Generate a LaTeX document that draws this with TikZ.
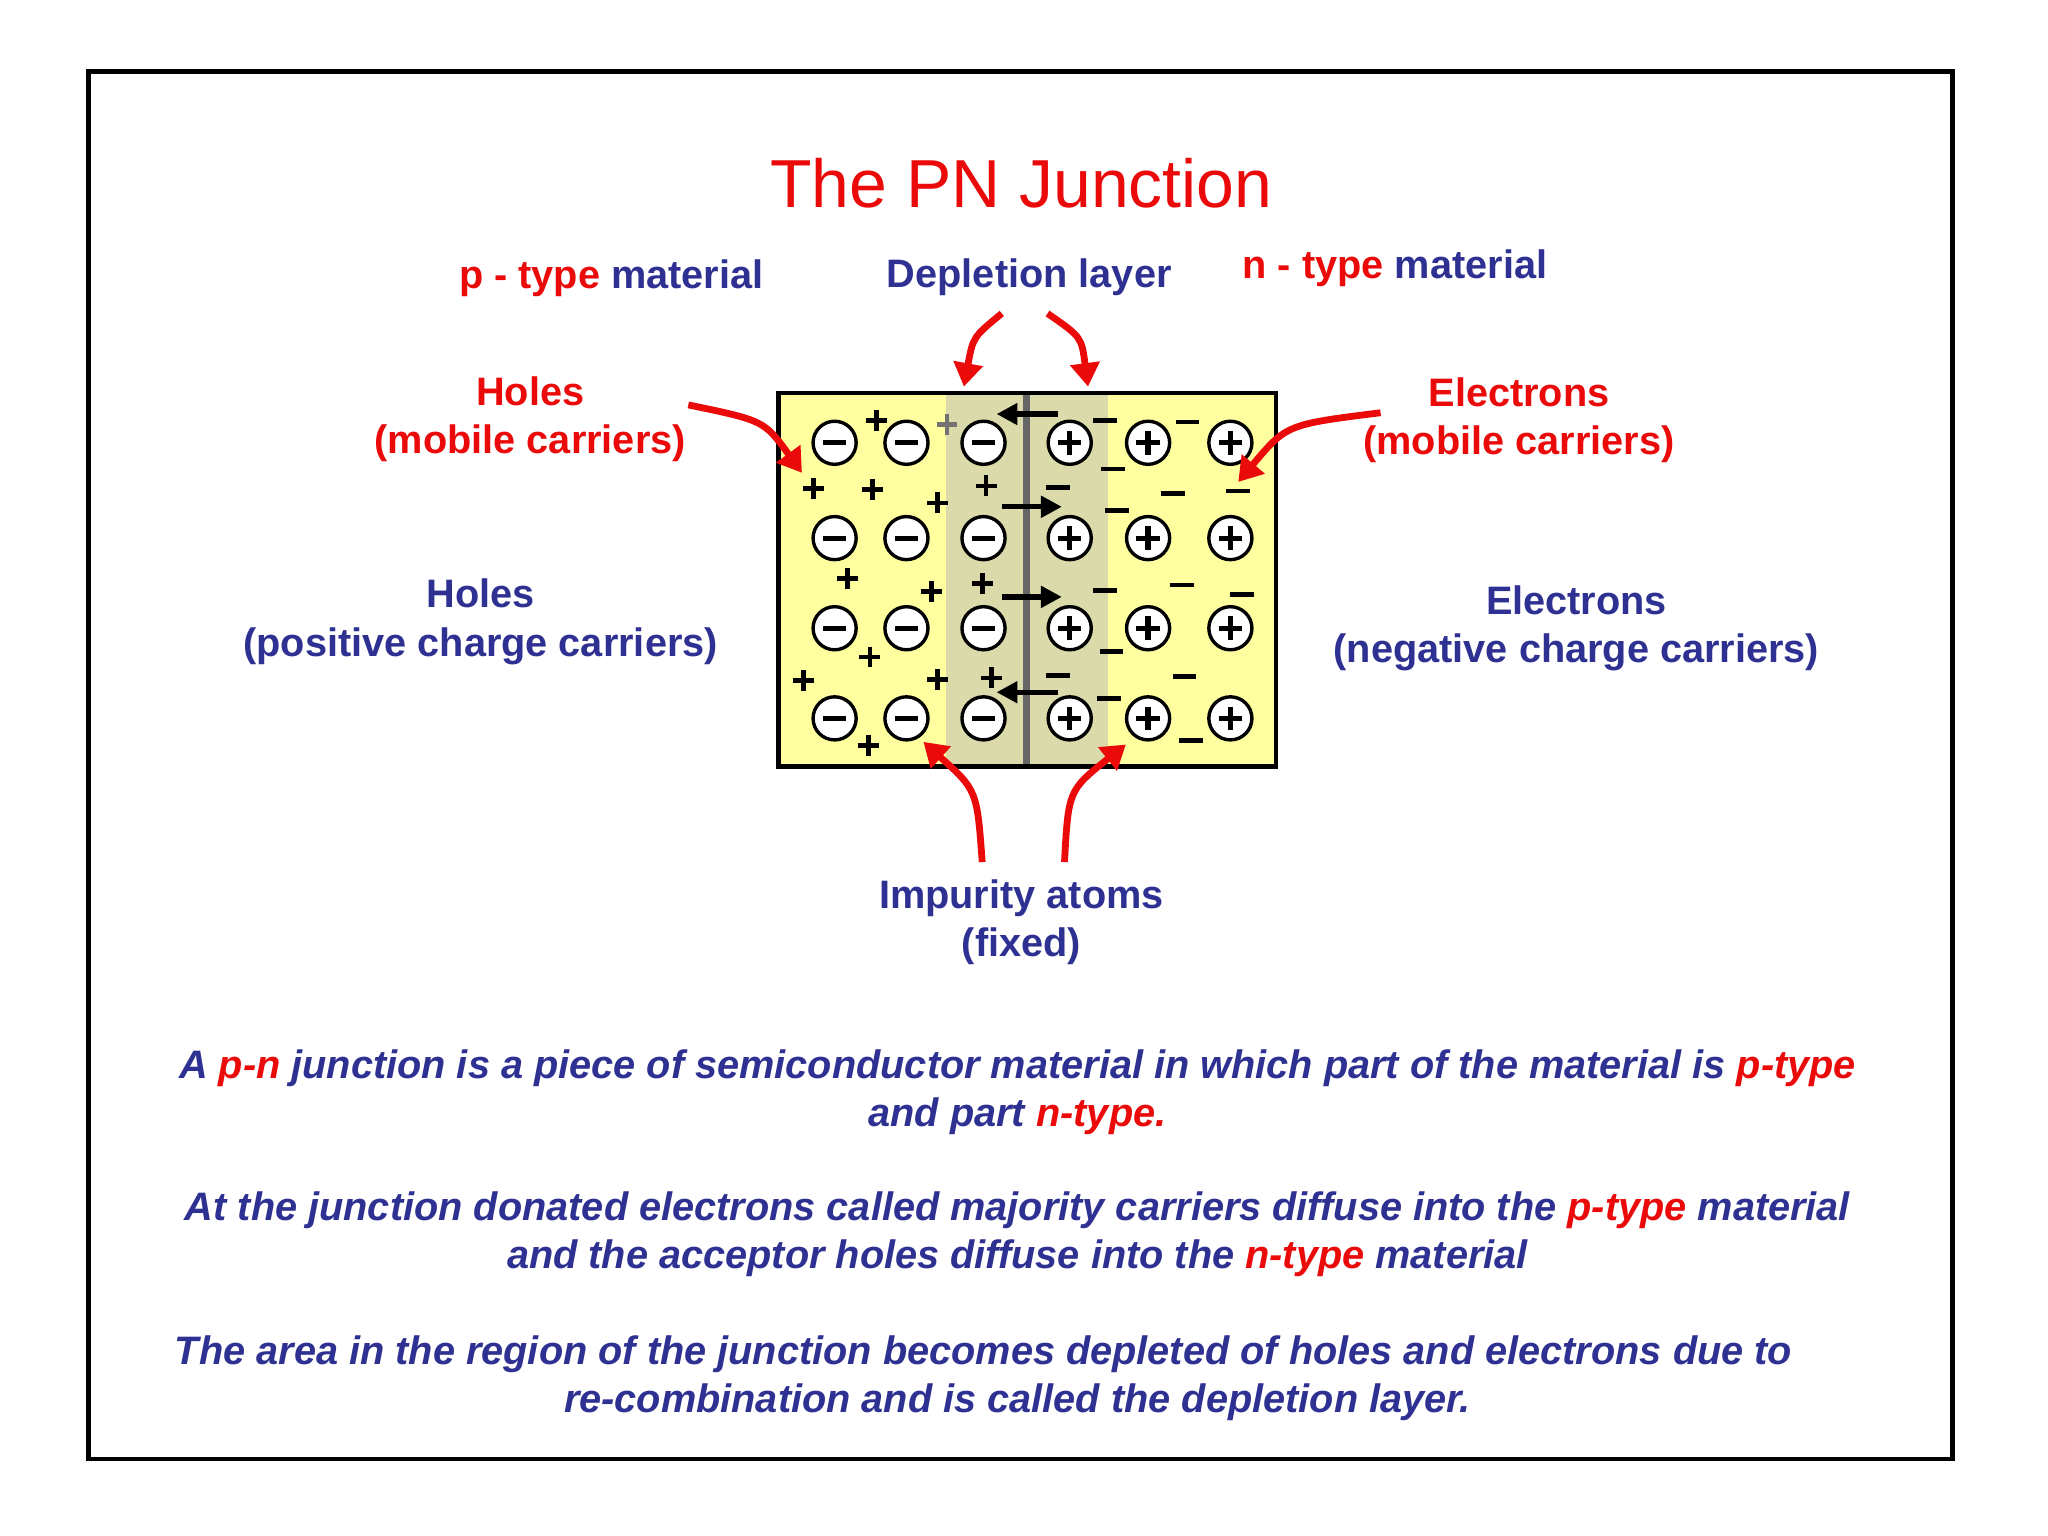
\documentclass[tikz,border=0pt]{standalone}
\usepackage{fontspec}
\setmainfont{Liberation Sans}
\usetikzlibrary{arrows.meta}
\definecolor{rd}{RGB}{235,10,10}
\definecolor{bl}{RGB}{46,49,146}
\definecolor{yel}{RGB}{255,255,160}
\definecolor{dep}{RGB}{218,218,170}
\begin{document}
\begin{tikzpicture}[x=0.5pt,y=-0.5pt,
  lab/.style={font=\fontsize{15.2}{18.5}\selectfont\bfseries,align=center,text=bl},
  body/.style={font=\fontsize{15.2}{18.5}\selectfont\bfseries\itshape,align=center,text=bl},
  ra/.style={rd,line width=2.6pt,-{Triangle[length=9pt,width=11pt]}},
  ka/.style={black,line width=2pt,-{Triangle[length=8pt,width=8pt]}},
  atom/.style={circle,draw=black,fill=white,line width=1.3pt,minimum size=16.5pt,inner sep=0pt},
]
\useasboundingbox (0,0) rectangle (1568,1176);
\fill[white] (0,0) rectangle (1568,1176);
\draw[line width=1.8pt] (68,55) rectangle (1495,1117);
\node[text=rd,font=\fontsize{26}{30}\selectfont] (title) at (782,140) {The PN Junction};
\node[lab] (ptype) at (468,213) {\textcolor{rd}{p - type} material};
\node[lab] (dl) at (788,212) {Depletion layer};
\node[lab] (ntype) at (1068,205) {\textcolor{rd}{n - type} material};
\node[lab,text=rd] (holes1) at (406,321) {Holes\\(mobile carriers)};
\node[lab,text=rd] (el1) at (1163,322) {Electrons\\(mobile carriers)};
\node[lab] (holes2) at (368,476) {Holes\\(positive charge carriers)};
\node[lab] (el2) at (1207,481) {Electrons\\(negative charge carriers)};
\node[lab] (imp) at (782,706) {Impurity atoms\\(fixed)};
% block
\draw[fill=yel,line width=1.8pt] (596,301) rectangle (977,587);
\fill[dep] (724,302.5) rectangle (848,585.5);
\draw[line width=2.6pt,black!60] (786,302.5) -- (786,585.5);
\draw[line width=1.8pt] (596,301) rectangle (977,587);
\coordinate (blk) at (786,444);
% atoms
\foreach \y [count=\r] in {339,412,481,550}{
  \foreach \x [count=\c] in {639,694,753}{
    \node[atom] (m\r\c) at (\x,\y) {};
    \draw[line width=2pt] (\x-9,\y) -- (\x+9,\y);}
  \foreach \x [count=\c] in {819,879,942}{
    \node[atom] (p\r\c) at (\x,\y) {};
    \draw[line width=2pt] (\x-9,\y) -- (\x+9,\y) (\x,\y-9) -- (\x,\y+9);}
}
% holes
\foreach \x/\y in {671/322,623/374,668/375,718/385,755/372,649/443,713/453,752/447,666/503,615/521,718/520,759/519,665/571}
  {\draw[line width=1.8pt] (\x-8,\y) -- (\x+8,\y) (\x,\y-8) -- (\x,\y+8);}
\draw[line width=1.8pt,black!55] (717,325) -- (733,325) (725,317) -- (725,333);
% electrons
\foreach \x/\y in {909/323,852/359,810/373,898/378,948/376,855/391,905/448,951/455,851/499,810/517,907/518,849/535,912/567,846/322,846/452}
  {\draw[line width=1.8pt] (\x-9,\y) -- (\x+9,\y);}
% black arrows
\coordinate (a1s) at (810,317); \coordinate (a1e) at (763,317);
\coordinate (a2s) at (767,388); \coordinate (a2e) at (813,388);
\coordinate (a3s) at (767,457); \coordinate (a3e) at (813,457);
\coordinate (a4s) at (810,530); \coordinate (a4e) at (763,530);
\draw[ka] (a1s) -- (a1e);
\draw[ka] (a2s) -- (a2e);
\draw[ka] (a3s) -- (a3e);
\draw[ka] (a4s) -- (a4e);
% red arrows
\coordinate (d1) at (767,240); \coordinate (d1e) at (738,296);
\coordinate (d2) at (802,240); \coordinate (d2e) at (833,296);
\coordinate (h1) at (527,310); \coordinate (h1e) at (614,362);
\coordinate (e1) at (1057,316); \coordinate (e1e) at (948,369);
\coordinate (i1) at (752,660); \coordinate (i1e) at (707,568);
\coordinate (i2) at (815,660); \coordinate (i2e) at (862,570);
\draw[ra] (d1) .. controls (745,258) .. (d1e);
\draw[ra] (d2) .. controls (828,258) .. (d2e);
\draw[ra] (h1) .. controls (585,322) .. (h1e);
\draw[ra] (e1) .. controls (985,325) .. (e1e);
\draw[ra] (i1) .. controls (748,605) .. (i1e);
\draw[ra] (i2) .. controls (818,605) .. (i2e);
% text
\node[body] (t1) at (779,836) {A \textcolor{rd}{p-n} junction is a piece of semiconductor material in which part of the material is \textcolor{rd}{p-type}\\and part \textcolor{rd}{n-type.}};
\node[body] (t2) at (779,945) {At the junction donated electrons called majority carriers diffuse into the \textcolor{rd}{p-type} material\\and the acceptor holes diffuse into the \textcolor{rd}{n-type} material};
\node[body] (t3) at (753,1055) {The area in the region of the junction becomes depleted of holes and electrons due to\\\hspace*{26pt}re-combination and is called the depletion layer.};
\end{tikzpicture}
\end{document}
